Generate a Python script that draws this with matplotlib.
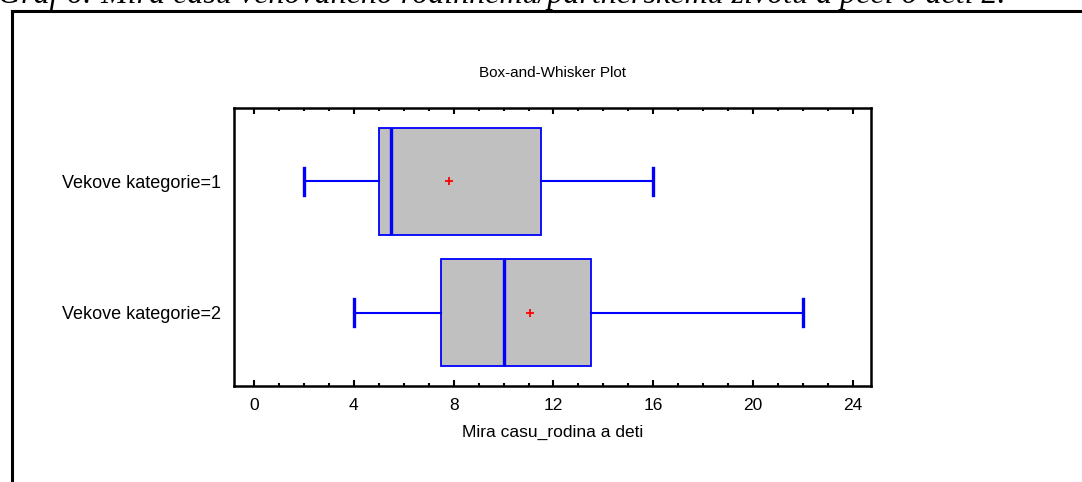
import matplotlib
matplotlib.use("Agg")
import matplotlib.pyplot as plt
from matplotlib.lines import Line2D
from matplotlib.ticker import MultipleLocator

plt.rcParams['font.family'] = ['Liberation Sans', 'DejaVu Sans']

categories = ["Vekove kategorie=1", "Vekove kategorie=2"]
whis_lo = [2, 4]
q1 = [5, 7.5]
median = [5.5, 10]
q3 = [11.5, 13.5]
whis_hi = [16, 22]
means = [7.8, 11.05]

caption = "Graf 6: Mira casu venovaneho rodinnemu/partnerskemu zivotu a peci o deti 2."

W, H = 1082, 482
fig = plt.figure(figsize=(W / 100, H / 100), dpi=100)
ax = fig.add_axes([234 / W, 1 - 386 / H, 637 / W, 278 / H])

stats = []
for i in range(len(categories)):
    stats.append(dict(label=categories[i], whislo=whis_lo[i], q1=q1[i], med=median[i],
                      q3=q3[i], whishi=whis_hi[i], mean=means[i], fliers=[]))

ax.bxp(stats, positions=[1, 2], widths=0.81, capwidths=0.21, orientation='horizontal',
       patch_artist=True, showmeans=True,
       boxprops=dict(facecolor='#c0c0c0', edgecolor='#0000ff', linewidth=1.3),
       medianprops=dict(color='#0000ff', linewidth=2.4),
       whiskerprops=dict(color='#0000ff', linewidth=1.5),
       capprops=dict(color='#0000ff', linewidth=2.4),
       meanprops=dict(marker='+', markeredgecolor='red', markersize=6, markeredgewidth=1.3))

ax.set_xlim(-0.8, 24.72)
ax.set_ylim(2.56, 0.44)
ax.xaxis.set_major_locator(MultipleLocator(4))
ax.xaxis.set_minor_locator(MultipleLocator(1))
ax.tick_params(axis='x', which='major', direction='in', length=4, width=1.5,
               top=True, labelsize=12.5, pad=9)
ax.tick_params(axis='x', which='minor', direction='in', length=2, width=1.5, top=True)
ax.tick_params(axis='y', length=0, labelsize=13, pad=9)
for s in ax.spines.values():
    s.set_linewidth(1.8)

ax.set_title("Box-and-Whisker Plot", fontsize=11, pad=22)
ax.set_xlabel("Mira casu_rodina a deti", fontsize=12.5, labelpad=8)

# outer frame, cut off at the right and bottom
fig.add_artist(Line2D([12 / W, 1.0], [1 - 10.5 / H, 1 - 10.5 / H], color='black', linewidth=2.2))
fig.add_artist(Line2D([12 / W, 12 / W], [0, 1 - 10.5 / H], color='black', linewidth=2.2))

# caption above, mostly clipped by the top edge
fig.text(-2 / W, 1 - 3 / H, caption, family='Liberation Serif', style='italic',
         fontsize=23, va='baseline', ha='left')

fig.savefig("out.png", dpi=100)
